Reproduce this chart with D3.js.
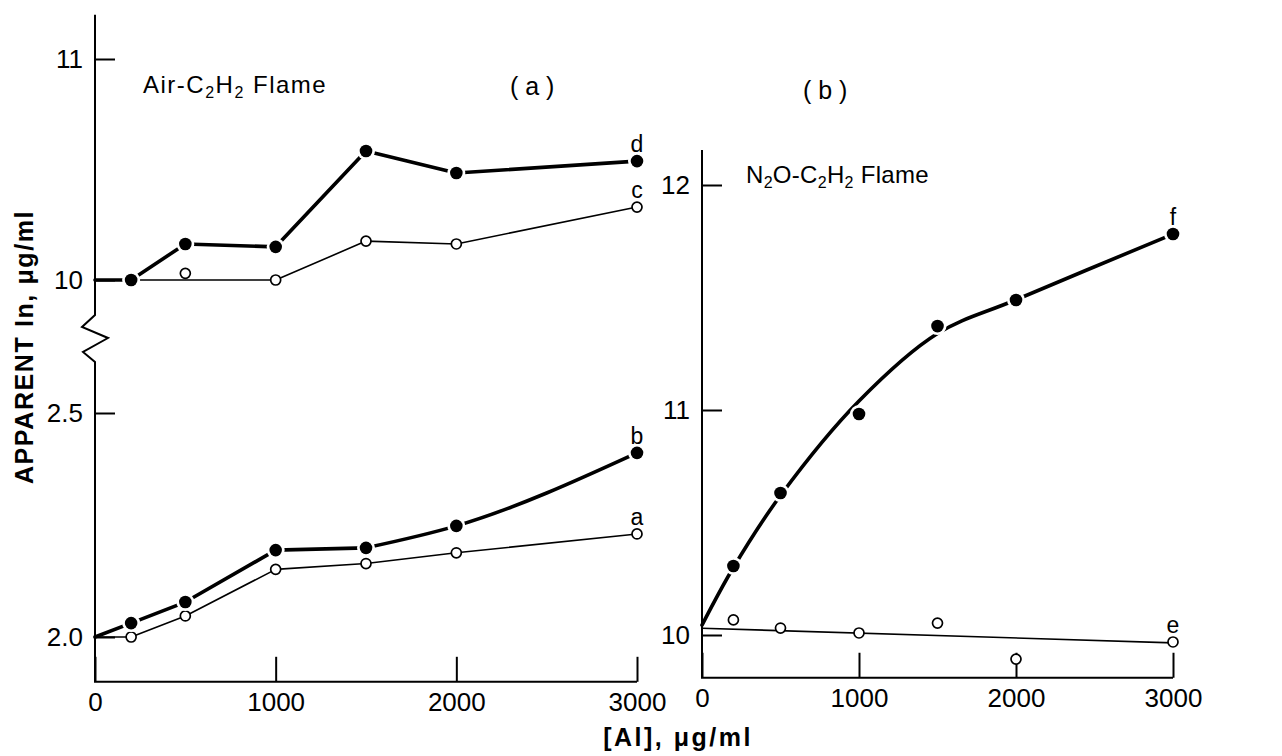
<!DOCTYPE html>
<html><head><meta charset="utf-8">
<script src="https://cdn.jsdelivr.net/npm/d3@7"></script>
<style>
body{margin:0;background:#fff;}
text{font-family:"Liberation Sans",Arial,sans-serif;fill:#000;}
</style>
</head><body>
<svg id="chart" width="1282" height="756"></svg>
<script>
// ---------- data ----------
const xTicks = [0, 1000, 2000, 3000];
const conc = [200, 500, 1000, 1500, 2000, 3000];           // [Al], µg/ml
// panel (a) Air-C2H2, lower section
const seriesA = [2.000, 2.047, 2.151, 2.164, 2.188, 2.230]; // open
const seriesB = [2.031, 2.078, 2.194, 2.199, 2.248, 2.411]; // filled
// panel (a) upper section
const seriesC = [10.000, 10.030, 10.000, 10.176, 10.163, 10.330]; // open
const seriesD = [10.000, 10.163, 10.150, 10.584, 10.484, 10.538]; // filled
// panel (b) N2O-C2H2
const seriesE = [10.067, 10.031, 10.009, 10.053, 9.893, 9.969];   // open
const seriesF = [10.307, 10.631, 10.982, 11.373, 11.489, 11.782]; // filled
// drawn (hand-fitted) curves
const fitConc = [0, 200, 500, 1000, 1500, 2000, 3000];
const fitA = [2.0, 2.0, 2.047, 2.151, 2.164, 2.188, 2.230];
const fitB = [2.0, 2.031, 2.078, 2.194, 2.199, 2.248, 2.411];
const fitC = [10.0, 10.0, 10.0, 10.0, 10.176, 10.163, 10.330];
const fitD = [10.0, 10.0, 10.163, 10.150, 10.584, 10.484, 10.538];
const fitF = [10.044, 10.30, 10.62, 11.04, 11.34, 11.49, 11.782];
const fitEConc = [0, 3000];
const fitE = [10.030, 9.965];
const yTicksUpperA = [11, 10];
const yTicksLowerA = [2.5, 2.0];
const yTicksB = [12, 11, 10];

// ---------- scales ----------
const svg = d3.select("#chart");
const xA = d3.scaleLinear([0, 3000], [95, 637]);
const yAU = d3.scaleLinear([10, 11], [280, 59]);
const yAL = d3.scaleLinear([2, 2.5], [637, 413]);
const xB = d3.scaleLinear([0, 3000], [702, 1173]);
const yB = d3.scaleLinear([10, 12], [635, 185]);

const FS = 26;
function styleAxis(g) {
  g.select(".domain").remove();
  g.attr("font-size", FS).attr("font-family", "Liberation Sans, Arial, sans-serif");
  g.selectAll("line").attr("stroke", "#000").attr("stroke-width", 2);
  g.selectAll("text").attr("fill", "#000");
}
function yAxis(scale, ticks, fmt, x) {
  svg.append("g").attr("transform", `translate(${x},0)`)
    .call(d3.axisLeft(scale).tickValues(ticks).tickFormat(fmt)
      .tickSizeInner(-20).tickSizeOuter(0).tickPadding(12))
    .call(styleAxis);
}
function xAxis(scale, y) {
  svg.append("g").attr("transform", `translate(0,${y})`)
    .call(d3.axisBottom(scale).tickValues(xTicks).tickFormat(d3.format("d"))
      .tickSizeInner(-25).tickSizeOuter(0).tickPadding(11))
    .call(styleAxis);
}

// ---------- axes panel (a) ----------
const aTop = yAU(11.2), aBottom = yAL(1.9), ax0 = xA(0);
const brk = yAU(10) + 35;
svg.append("path")
  .attr("d", `M${ax0},${aTop}V${brk}L${ax0-13},${brk+12}L${ax0+13},${brk+23}L${ax0-12},${brk+37}L${ax0},${brk+47}V${aBottom}H${xA(3000)}`)
  .attr("fill", "none").attr("stroke", "#000").attr("stroke-width", 2);
yAxis(yAU, yTicksUpperA, d3.format("d"), ax0);
yAxis(yAL, yTicksLowerA, d3.format(".1f"), ax0);
xAxis(xA, aBottom);

// ---------- axes panel (b) ----------
const bTop = yB(12.156), bBottom = yB(9.81), bx0 = xB(0);
svg.append("path")
  .attr("d", `M${bx0},${bTop}V${bBottom}H${xB(3000)}`)
  .attr("fill", "none").attr("stroke", "#000").attr("stroke-width", 2);
yAxis(yB, yTicksB, d3.format("d"), bx0);
xAxis(xB, bBottom);

// ---------- curves ----------
function curve(xs, ys, cx, cy, width, type) {
  svg.append("path")
    .datum(d3.zip(cx, cy))
    .attr("d", d3.line().x(d => xs(d[0])).y(d => ys(d[1])).curve(type))
    .attr("fill", "none").attr("stroke", "#000")
    .attr("stroke-width", width).attr("stroke-linejoin", "round").attr("stroke-linecap", "round");
}
curve(xA, yAL, fitConc, fitA, 1.6, d3.curveLinear);
curve(xA, yAU, fitConc, fitC, 1.6, d3.curveLinear);
curve(xB, yB, fitEConc, fitE, 1.6, d3.curveLinear);
// b: straight up to 1500, then a smooth upward bend
curve(xA, yAL, fitConc.slice(0, 5), fitB.slice(0, 5), 3.6, d3.curveLinear);
curve(xA, yAL, fitConc.slice(4), fitB.slice(4), 3.6, d3.curveMonotoneX);
curve(xA, yAU, fitConc, fitD, 3.6, d3.curveLinear);
curve(xB, yB, fitConc, fitF, 3.6, d3.curveCatmullRom.alpha(0.5));

// ---------- markers ----------
function openMarks(xs, ys, vals) {
  svg.append("g").selectAll("circle").data(d3.zip(conc, vals)).join("circle")
    .attr("cx", d => xs(d[0])).attr("cy", d => ys(d[1])).attr("r", 5)
    .attr("fill", "#fff").attr("stroke", "#000").attr("stroke-width", 1.7);
}
function filledMarks(xs, ys, vals) {
  const g = svg.append("g");
  g.selectAll("circle.h").data(d3.zip(conc, vals)).join("circle").attr("class", "h")
    .attr("cx", d => xs(d[0])).attr("cy", d => ys(d[1])).attr("r", 9).attr("fill", "#fff");
  g.selectAll("circle.m").data(d3.zip(conc, vals)).join("circle").attr("class", "m")
    .attr("cx", d => xs(d[0])).attr("cy", d => ys(d[1])).attr("r", 6.3).attr("fill", "#000");
}
openMarks(xA, yAL, seriesA);
openMarks(xA, yAU, seriesC);
openMarks(xB, yB, seriesE);
filledMarks(xA, yAL, seriesB);
filledMarks(xA, yAU, seriesD);
filledMarks(xB, yB, seriesF);

// ---------- curve letters ----------
const letters = [
  {t: "a", xs: xA, ys: yAL, v: seriesA},
  {t: "b", xs: xA, ys: yAL, v: seriesB},
  {t: "c", xs: xA, ys: yAU, v: seriesC},
  {t: "d", xs: xA, ys: yAU, v: seriesD},
  {t: "e", xs: xB, ys: yB, v: seriesE},
  {t: "f", xs: xB, ys: yB, v: seriesF}
];
letters.forEach(L => {
  svg.append("text").attr("x", L.xs(3000)).attr("y", L.ys(L.v[L.v.length - 1]) - 9)
    .attr("text-anchor", "middle").attr("font-size", 23).text(L.t);
});

// ---------- titles ----------
function flameLabel(x, y, parts, spacing) {
  const t = svg.append("text").attr("x", x).attr("y", y).attr("font-size", 24)
    .attr("letter-spacing", spacing);
  parts.forEach(p => {
    const s = t.append("tspan").text(p[0]);
    if (p[1] === "sub") s.attr("font-size", 16).attr("dy", 5);
    if (p[1] === "up") s.attr("dy", -5);
  });
}
flameLabel(143, 93, [["Air-C"], ["2", "sub"], ["H", "up"], ["2", "sub"], [" Flame", "up"]], 1.5);
flameLabel(746, 183, [["N"], ["2", "sub"], ["O-C", "up"], ["2", "sub"], ["H", "up"], ["2", "sub"], [" Flame", "up"]], 0.3);

svg.append("text").attr("x", 510).attr("y", 95).attr("font-size", 25).text("( a )");
svg.append("text").attr("x", 803).attr("y", 99).attr("font-size", 25).text("( b )");

svg.append("text").attr("x", 678).attr("y", 746).attr("text-anchor", "middle")
  .attr("font-size", 25).attr("font-weight", "bold").attr("letter-spacing", 2.5)
  .text("[Al], μg/ml");
svg.append("text").attr("transform", "translate(33,347) rotate(-90)")
  .attr("text-anchor", "middle").attr("font-size", 25).attr("font-weight", "bold")
  .attr("letter-spacing", 1.6).text("APPARENT In, μg/ml");
</script>
</body></html>
